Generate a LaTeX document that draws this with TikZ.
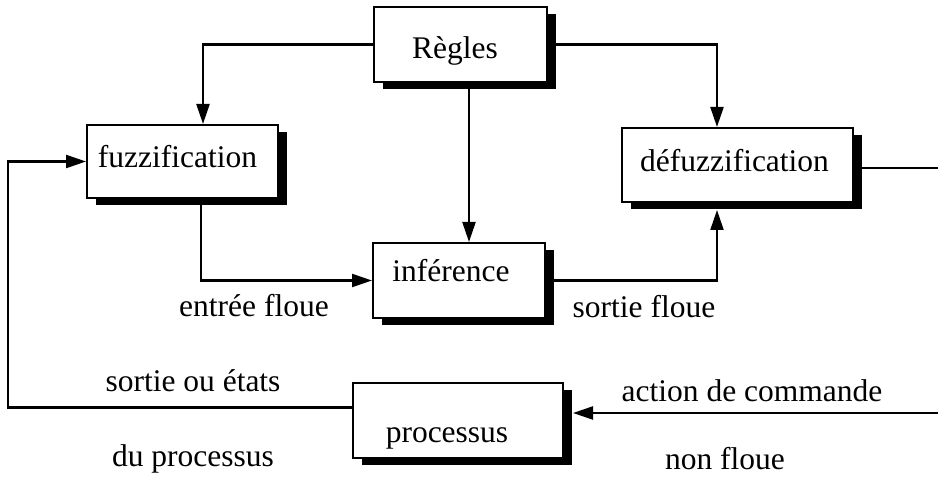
\documentclass[tikz,border=0pt]{standalone}
\usepackage{fontspec}
\setmainfont{Liberation Serif}
\usetikzlibrary{arrows.meta,shadows}

\tikzset{
  txt/.style={font=\fontsize{31.5}{36}\selectfont, inner sep=0pt},
  blk/.style={txt, draw=black, fill=white, line width=2pt,
    inner xsep=0pt, inner ysep=0pt,
    drop shadow={shadow xshift=9pt, shadow yshift=-7pt, fill=black, opacity=1}},
  conn/.style={line width=2.2pt},
  arr/.style={conn, -{Triangle[length=20pt,width=13pt]}},
}

\begin{document}
\begin{tikzpicture}[x=1pt,y=-1pt]
  \useasboundingbox (0,0) rectangle (938,478);

  % blocks of the fuzzy controller
  \node[blk, minimum width=173pt, minimum height=75pt, text height=29pt, text depth=0pt]
    (R) at (460.5,44.5) {\kern-11pt Règles};
  \node[blk, minimum width=191pt, minimum height=73pt, text height=21pt, text depth=8pt]
    (F) at (182.5,161.5) {\kern-10pt fuzzification};
  \node[blk, minimum width=231pt, minimum height=74pt, text height=22pt, text depth=8pt]
    (D) at (737.5,165) {\kern-6pt défuzzification};
  \node[blk, minimum width=172pt, minimum height=75pt, text height=21pt, text depth=18pt]
    (I) at (459,280.5) {\kern-16pt inférence};
  \node[blk, minimum width=210pt, minimum height=75pt, text height=44pt, text depth=0pt]
    (P) at (458,420.5) {\kern-22pt processus};

  % free ends at the right border and the left return corner
  \coordinate (outR) at (938,168);
  \coordinate (inR) at (938,413);
  \coordinate (lc) at (8,0);

  % connections
  \draw[arr] (R.west) -| ([xshift=20.5pt]F.north);
  \draw[arr] (R.east) -| ([xshift=-20.5pt]D.north);
  \draw[arr] ([xshift=8.5pt]R.south) -- ([xshift=10pt]I.north);
  \draw[arr] ([xshift=18.5pt]F.south) |- (I.west);
  \draw[arr] (I.east) -| ([xshift=-20.5pt,yshift=-7pt]D.south);
  \draw[conn] (D.east |- outR) -- (outR);
  \draw[arr] (inR) -- ([xshift=9pt]P.east |- inR);
  \draw[arr] ([yshift=13pt]P.west) -| (lc |- F.west) -- (F.west);

  % signal labels
  \node[txt, anchor=base] (l1) at (254,317) {entrée floue};
  \node[txt, anchor=base] (l2) at (644,318) {sortie floue};
  \node[txt, anchor=base] (l3) at (193,392) {sortie ou états};
  \node[txt, anchor=base] (l4) at (193,467) {du processus};
  \node[txt, anchor=base] (l5) at (752,402) {action de commande};
  \node[txt, anchor=base] (l6) at (725,470) {non floue};
\end{tikzpicture}
\end{document}
